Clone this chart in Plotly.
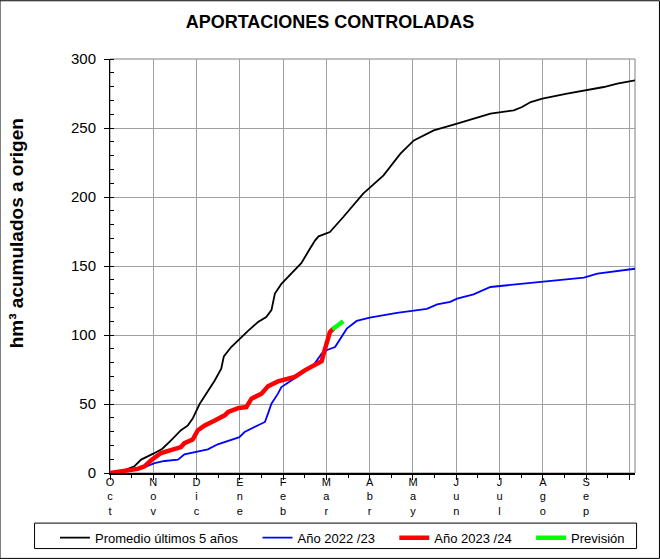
import plotly.graph_objects as go

# x in months since 1 October
prom_x = [0, 0.33, 0.56, 0.72, 1.0, 1.21, 1.41, 1.64, 1.80, 1.91, 2.07, 2.22, 2.42, 2.57, 2.63, 2.80,
          2.99, 3.19, 3.42, 3.61, 3.73, 3.81, 3.96, 4.19, 4.42, 4.59, 4.74, 4.82, 5.08, 5.39, 5.85,
          6.32, 6.71, 7.02, 7.48, 8.0, 8.40, 8.79, 9.33, 9.52, 9.72, 9.99, 10.56, 10.99, 11.41, 11.72, 12.13]
prom_y = [0, 2, 4.8, 9.7, 14, 17.6, 23.7, 31, 34.5, 39.4, 50, 57.5, 67, 75.6, 84.5, 91.3,
          97.3, 103, 109.4, 113, 118, 130, 137, 144.4, 152, 161, 168.6, 171.5, 174.6, 185.5, 202.4,
          215.7, 231.4, 241, 248.3, 253, 256.8, 260.4, 262.8, 265.2, 268.8, 271.3, 274.9, 277.3, 279.7, 282.1, 284.5]

a22_x = [0, 0.49, 0.80, 1.03, 1.26, 1.57, 1.72, 1.95, 2.26, 2.49, 2.80, 2.99, 3.11, 3.42, 3.58, 3.65,
         3.73, 3.88, 3.96, 4.19, 4.42, 4.70, 4.89, 5.0, 5.2, 5.32, 5.47, 5.70, 6.0, 6.63, 7.32, 7.56,
         7.86, 8.02, 8.40, 8.79, 9.41, 10.18, 10.95, 11.26, 11.80, 12.13]
a22_y = [0, 2, 4.3, 7.2, 8.7, 9.7, 13.5, 15.2, 17.1, 20.8, 23.7, 26, 29.7, 34.5, 37, 43,
         50.2, 57.5, 62.3, 67.1, 72, 78, 86.5, 89, 91.3, 97, 104.6, 110.2, 112.6, 116, 119, 122.2,
         124, 126.4, 129.5, 134.8, 136.7, 139.1, 141.6, 144.5, 146.9, 148]

a23_x = [0, 0.33, 0.64, 0.80, 0.95, 1.18, 1.41, 1.64, 1.72, 1.91, 2.03, 2.19, 2.42, 2.65, 2.73, 2.96,
         3.15, 3.27, 3.50, 3.65, 3.88, 4.27, 4.50, 4.73, 4.89, 4.95, 4.99, 5.03, 5.08, 5.16]
a23_y = [0, 1.4, 3, 4.8, 9.2, 14.5, 17, 18.8, 21.7, 24.2, 31, 34.5, 38, 41.8, 44.2, 47,
         47.8, 53.9, 57.5, 62.8, 66.4, 69.6, 74.4, 78, 81, 88, 93, 98, 102, 104.6]

prev_x = [5.14, 5.25, 5.39]
prev_y = [104.2, 107, 110]

month_labels = ["Oct", "Nov", "Dic", "Ene", "Feb", "Mar", "Abr", "May", "Jun", "Jul", "Ago", "Sep"]
series_names = ["Promedio últimos 5 años", "Año 2022 /23", "Año 2023 /24", "Previsión"]

FONT = "Arial, Liberation Sans, sans-serif"
PAD = "\u00a0" * 4

fig = go.Figure()
fig.add_trace(go.Scatter(x=prom_x, y=prom_y, mode="lines", name=series_names[0] + PAD,
                         line=dict(color="#000000", width=1.8)))
fig.add_trace(go.Scatter(x=a22_x, y=a22_y, mode="lines", name=series_names[1] + PAD,
                         line=dict(color="#0000ff", width=1.8)))
fig.add_trace(go.Scatter(x=a23_x, y=a23_y, mode="lines", name=series_names[2] + PAD,
                         line=dict(color="#ff0000", width=4.5)))
fig.add_trace(go.Scatter(x=prev_x, y=prev_y, mode="lines", name=series_names[3],
                         line=dict(color="#00ff00", width=4.5)))

tickvals = list(range(13))
ticktext = ["<br>".join(list(m)) for m in month_labels] + [""]

fig.update_layout(
    width=660, height=559,
    margin=dict(l=110, r=25, t=59, b=86, autoexpand=False),
    paper_bgcolor="white", plot_bgcolor="white",
    font=dict(family=FONT, color="black"),
    title=dict(text="<b>APORTACIONES CONTROLADAS</b>", x=0.5, xref="container", xanchor="center",
               y=1 - 22 / 559, yref="container", yanchor="middle",
               font=dict(size=18, family=FONT, color="black")),
    xaxis=dict(range=[0, 12.13], tickvals=tickvals, ticktext=ticktext, tickfont=dict(size=11),
               showgrid=True, gridcolor="#a0a0a0", gridwidth=1, zeroline=False, automargin=False,
               showline=True, linecolor="black", linewidth=1.5,
               ticks="outside", ticklen=5, tickcolor="black", ticklabelstandoff=-7,
               minor=dict(dtick=0.5, tick0=0, ticks="outside", ticklen=3, tickcolor="black", showgrid=False)),
    yaxis=dict(range=[0, 300], tickvals=[0, 50, 100, 150, 200, 250, 300], tickfont=dict(size=15),
               showgrid=True, gridcolor="#a0a0a0", gridwidth=1, zeroline=False, automargin=False,
               showline=True, linecolor="black", linewidth=1,
               ticks="outside", ticklen=5, tickcolor="black", ticklabelstandoff=5,
               minor=dict(dtick=10, tick0=0, ticks="inside", ticklen=4, tickcolor="black", showgrid=False)),
    showlegend=True,
    legend=dict(orientation="h", xref="paper", yref="paper",
                x=-0.1048, xanchor="left", y=-0.1563, yanchor="middle",
                font=dict(size=13, family=FONT), bgcolor="rgba(0,0,0,0)", borderwidth=0),
)

# plot frame (top/right in gray)
fig.add_shape(type="rect", xref="paper", yref="paper", x0=0, x1=1, y0=0, y1=1,
              line=dict(color="#808080", width=1), layer="below")
# legend box
fig.add_shape(type="rect", xref="paper", yref="paper", x0=-0.1437, x1=1.003, y0=-0.1825, y1=-0.121,
              line=dict(color="black", width=1))
# outer border
fig.add_shape(type="rect", xref="paper", yref="paper", x0=-0.2095, x1=1.0466, y0=-0.2063, y1=1.1407,
              line=dict(color="black", width=1))

fig.add_annotation(text="<b>hm³ acumulados a origen</b>", xref="paper", yref="paper",
                   x=-0.178, y=0.578, textangle=-90, showarrow=False,
                   font=dict(size=19, family=FONT, color="black"), xanchor="center", yanchor="middle")

fig.write_html("out.html", config={"displayModeBar": False},
               post_script="document.body.style.margin='0';")
